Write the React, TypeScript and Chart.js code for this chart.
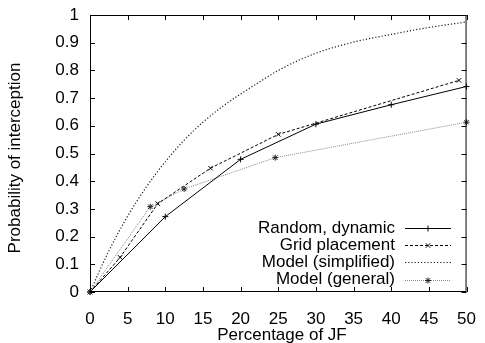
import { useEffect, useRef } from 'react';
import { Chart, registerables } from 'chart.js';

Chart.register(...registerables);

const FONT = '"Liberation Sans", Arial, sans-serif';
const FS = 17;

const xTickValues = [0, 5, 10, 15, 20, 25, 30, 35, 40, 45, 50];
const yTickValues = [0, 0.1, 0.2, 0.3, 0.4, 0.5, 0.6, 0.7, 0.8, 0.9, 1];

const randomX = [0, 10, 20, 30, 40, 50];
const randomY = [0, 0.272, 0.479, 0.606, 0.676, 0.742];

const gridX = [0, 4, 9, 16, 25, 49];
const gridY = [0, 0.125, 0.319, 0.447, 0.569, 0.764];

const simplifiedX = [0, 2.5, 5, 7.5, 10, 12.5, 15, 17.5, 20, 22.5, 25, 30, 35, 40, 45, 50];
const simplifiedY = [0, 0.148, 0.274, 0.38, 0.47, 0.548, 0.613, 0.668, 0.715, 0.758, 0.8, 0.862, 0.902, 0.93, 0.955, 0.975];

const generalX = [0, 8, 12.5, 24.6, 50];
const generalY = [0, 0.308, 0.372, 0.485, 0.613];

const legendLabels = ['Random, dynamic', 'Grid placement', 'Model (simplified)', 'Model (general)'];

const toPoints = (xs: number[], ys: number[]) => xs.map((x, i) => ({ x, y: ys[i] }));

type Mark = 'plus' | 'cross' | 'star' | 'none';

function drawMark(ctx: CanvasRenderingContext2D, kind: Mark, x: number, y: number, r: number) {
  ctx.beginPath();
  if (kind === 'plus' || kind === 'star') {
    ctx.moveTo(x - r, y);
    ctx.lineTo(x + r, y);
    ctx.moveTo(x, y - r);
    ctx.lineTo(x, y + r);
  }
  if (kind === 'cross' || kind === 'star') {
    const d = r * 0.75;
    ctx.moveTo(x - d, y - d);
    ctx.lineTo(x + d, y + d);
    ctx.moveTo(x - d, y + d);
    ctx.lineTo(x + d, y - d);
  }
  ctx.stroke();
}

const styles = [
  { color: '#000000', dash: [] as number[], mark: 'plus' as Mark, width: 1 },
  { color: '#000000', dash: [3, 2], mark: 'cross' as Mark, width: 1 },
  { color: '#1a1a1a', dash: [1.2, 2], mark: 'none' as Mark, width: 1.2 },
  { color: '#888888', dash: [1, 1], mark: 'star' as Mark, width: 1 },
];

const framePlugin = {
  id: 'gnuplotFrame',
  afterDraw(chart: any) {
    const { ctx, chartArea, scales } = chart;
    const { left, right, top, bottom } = chartArea;
    const xs = scales.x;
    const ys = scales.y;
    ctx.save();
    ctx.strokeStyle = '#000';
    ctx.lineWidth = 1;
    ctx.setLineDash([]);
    ctx.strokeRect(left + 0.5, top + 0.5, right - left - 1, bottom - top - 1);
    const tl = 5;
    ctx.beginPath();
    xTickValues.forEach((v) => {
      const px = Math.round(xs.getPixelForValue(v)) + 0.5;
      ctx.moveTo(px, bottom);
      ctx.lineTo(px, bottom - tl);
      ctx.moveTo(px, top);
      ctx.lineTo(px, top + tl);
    });
    yTickValues.forEach((v) => {
      const py = Math.round(ys.getPixelForValue(v)) + 0.5;
      ctx.moveTo(left, py);
      ctx.lineTo(left + tl, py);
      ctx.moveTo(right, py);
      ctx.lineTo(right - tl, py);
    });
    ctx.stroke();

    // axis titles
    ctx.fillStyle = '#000';
    ctx.font = `${FS}px ${FONT}`;
    ctx.textAlign = 'center';
    ctx.textBaseline = 'middle';
    ctx.fillText('Percentage of JF', 282, 335.5);
    ctx.save();
    ctx.translate(15.5, 158);
    ctx.rotate(-Math.PI / 2);
    ctx.fillText('Probability of interception', 0, 0);
    ctx.restore();

    // legend
    const textRight = 395;
    const sx0 = 405;
    const sx1 = 451;
    const sxm = 428;
    const rowY0 = 228;
    const rowStep = 17.2;
    legendLabels.forEach((label, i) => {
      const y = rowY0 + i * rowStep;
      ctx.fillStyle = '#000';
      ctx.textAlign = 'right';
      ctx.textBaseline = 'middle';
      ctx.fillText(label, textRight, y);
      const st = styles[i];
      ctx.strokeStyle = st.color;
      ctx.lineWidth = st.width;
      ctx.setLineDash(st.dash);
      ctx.beginPath();
      ctx.moveTo(sx0, Math.round(y) + 0.5);
      ctx.lineTo(sx1, Math.round(y) + 0.5);
      ctx.stroke();
      ctx.setLineDash([]);
      ctx.lineWidth = 1;
      ctx.strokeStyle = st.mark === 'star' ? '#222222' : st.color;
      if (st.mark !== 'none') drawMark(ctx, st.mark, sxm, Math.round(y) + 0.5, 3);
    });
    ctx.restore();
  },
};

const markPlugin = {
  id: 'gnuplotMarks',
  afterDatasetsDraw(chart: any) {
    const { ctx } = chart;
    ctx.save();
    ctx.lineWidth = 1;
    ctx.setLineDash([]);
    chart.data.datasets.forEach((_ds: any, i: number) => {
      const st = styles[i];
      if (st.mark === 'none') return;
      const meta = chart.getDatasetMeta(i);
      ctx.strokeStyle = st.mark === 'star' ? '#222222' : st.color;
      meta.data.forEach((pt: any) => {
        drawMark(ctx, st.mark, pt.x, pt.y, 3);
      });
    });
    ctx.restore();
  },
};

export default function App() {
  const ref = useRef<HTMLCanvasElement | null>(null);

  useEffect(() => {
    if (!ref.current) return;
    const mk = (label: string, xs: number[], ys: number[], i: number, tension = 0) => ({
      label,
      data: toPoints(xs, ys),
      borderColor: styles[i].color,
      borderDash: styles[i].dash,
      borderWidth: styles[i].width,
      pointRadius: 0,
      pointHoverRadius: 0,
      fill: false,
      tension,
      clip: false as any,
      cubicInterpolationMode: tension > 0 ? ('monotone' as const) : ('default' as const),
    });
    const chart = new Chart(ref.current, {
      type: 'line',
      data: {
        datasets: [
          mk(legendLabels[0], randomX, randomY, 0),
          mk(legendLabels[1], gridX, gridY, 1),
          mk(legendLabels[2], simplifiedX, simplifiedY, 2, 0.4),
          mk(legendLabels[3], generalX, generalY, 3),
        ],
      },
      options: {
        responsive: false,
        animation: false,
        events: [],
        layout: { padding: { top: 15, right: 14, left: 0, bottom: 0 } },
        plugins: { legend: { display: false }, tooltip: { enabled: false } },
        scales: {
          x: {
            type: 'linear',
            min: 0,
            max: 50,
            grid: { display: false },
            border: { display: false },
            ticks: {
              stepSize: 5,
              autoSkip: false,
              maxRotation: 0,
              padding: 9,
              color: '#000',
              font: { family: FONT, size: FS },
            },
            afterFit: (s: any) => {
              s.height = 51;
            },
          },
          y: {
            type: 'linear',
            min: 0,
            max: 1,
            grid: { display: false },
            border: { display: false },
            ticks: {
              stepSize: 0.1,
              padding: 3,
              color: '#000',
              font: { family: FONT, size: FS },
              callback: (v: any) => {
                const r = Math.round(Number(v) * 10) / 10;
                return r === 0 ? '0' : r === 1 ? '1' : r.toFixed(1);
              },
            },
            afterFit: (s: any) => {
              s.width = 90;
            },
          },
        },
      },
      plugins: [markPlugin, framePlugin],
    });
    return () => chart.destroy();
  }, []);

  return (
    <div style={{ position: 'absolute', left: 0, top: 0, width: 485, height: 343, background: '#fff' }}>
      <canvas ref={ref} width={485} height={343} />
    </div>
  );
}
